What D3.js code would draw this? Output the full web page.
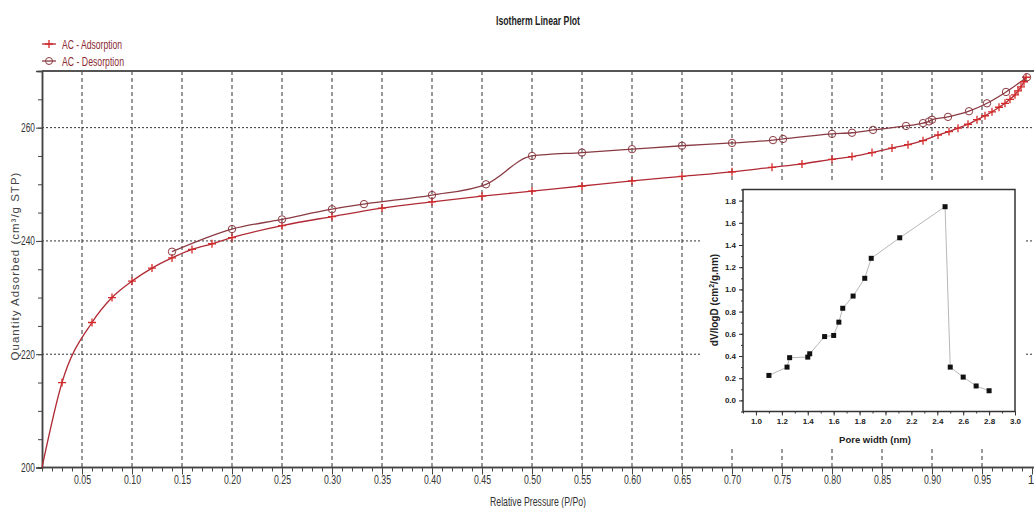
<!DOCTYPE html>
<html>
<head>
<meta charset="utf-8">
<script src="https://cdn.jsdelivr.net/npm/d3@7"></script>
<style>
  body { margin: 0; background: #fff; }
  svg { display: block; }
</style>
</head>
<body>
<svg width="1034" height="508"></svg>
<script>
// isotherm data
let pressureAds = [0.01, 0.03, 0.06, 0.08, 0.10, 0.12, 0.14, 0.16, 0.18, 0.20, 0.25, 0.30, 0.35, 0.40,
  0.45, 0.50, 0.55, 0.60, 0.65, 0.70, 0.74, 0.77, 0.80, 0.82, 0.84, 0.86, 0.876, 0.891, 0.906, 0.917,
  0.926, 0.936, 0.945, 0.953, 0.960, 0.967, 0.973, 0.978, 0.983, 0.986, 0.989, 0.992, 0.994]
let quantityAds = [200, 215.0, 225.6, 230.0, 232.9, 235.2, 237.0, 238.5, 239.5, 240.6, 242.7, 244.3, 245.8, 246.9,
  247.9, 248.8, 249.7, 250.6, 251.4, 252.2, 253.0, 253.6, 254.4, 254.9, 255.6, 256.4, 257.0, 257.7, 258.7, 259.3,
  259.9, 260.6, 261.4, 262.1, 262.8, 263.6, 264.3, 265.0, 265.8, 266.5, 267.2, 268.1, 268.9]

let pressureDes = [0.14, 0.20, 0.25, 0.30, 0.332, 0.40, 0.454, 0.50, 0.55, 0.60, 0.65, 0.70, 0.741, 0.751,
  0.80, 0.82, 0.841, 0.874, 0.891, 0.897, 0.90, 0.916, 0.937, 0.955, 0.974, 0.995]
let quantityDes = [238.1, 242.1, 243.8, 245.6, 246.5, 248.1, 250.0, 255.0, 255.6, 256.2, 256.8, 257.3, 257.8, 258.0,
  258.9, 259.1, 259.6, 260.3, 260.8, 261.1, 261.4, 261.9, 262.9, 264.3, 266.3, 268.9]

// pore size distribution (inset)
let poreWidth = [1.10, 1.24, 1.26, 1.40, 1.415, 1.53, 1.60, 1.64, 1.67, 1.75, 1.84, 1.89, 2.11, 2.46, 2.50, 2.60, 2.70, 2.80]
let dvLogD = [0.225, 0.30, 0.385, 0.39, 0.42, 0.575, 0.585, 0.705, 0.83, 0.94, 1.10, 1.28, 1.465, 1.745, 0.30, 0.21, 0.13, 0.087]

let xTickValues = [0.05, 0.10, 0.15, 0.20, 0.25, 0.30, 0.35, 0.40, 0.45, 0.50, 0.55, 0.60, 0.65, 0.70, 0.75, 0.80, 0.85, 0.90, 0.95, 1.0]
let xTickLabels = ['0.05', '0.10', '0.15', '0.20', '0.25', '0.30', '0.35', '0.40', '0.45', '0.50', '0.55', '0.60',
  '0.65', '0.70', '0.75', '0.80', '0.85', '0.90', '0.95', '1']
let yTickValues = [200, 220, 240, 260]
let insetXTicks = [1.0, 1.2, 1.4, 1.6, 1.8, 2.0, 2.2, 2.4, 2.6, 2.8, 3.0]
let insetYTicks = [0.0, 0.2, 0.4, 0.6, 0.8, 1.0, 1.2, 1.4, 1.6, 1.8]

let sans = "'Liberation Sans', Arial, sans-serif"
let adsColor = '#d42a2a'
let adsLine = '#b02a35'
let desColor = '#8a3a42'

// no narrow font is installed, so squeeze the glyphs to the width seen in the picture
function squeeze(sel, w) {
  sel.attr('textLength', w).attr('lengthAdjust', 'spacingAndGlyphs')
}

let svg = d3.select('svg')

let x = d3.scaleLinear().domain([0.01, 1.0]).range([42, 1032])
let y = d3.scaleLinear().domain([200, 270]).range([467.5, 71])

// title
svg.append('text')
  .attr('x', 538).attr('y', 25)
  .attr('text-anchor', 'middle')
  .attr('font-family', sans).attr('font-weight', 'bold').attr('font-size', 13)
  .attr('fill', '#222')
  .text('Isotherm Linear Plot')
  .call(squeeze, 84)

// grid
svg.append('g').selectAll('line')
  .data(xTickValues.filter(v => v < 0.99))
  .enter().append('line')
  .attr('x1', d => x(d)).attr('x2', d => x(d))
  .attr('y1', y(270)).attr('y2', y(200))
  .attr('stroke', '#333').attr('stroke-width', 1).attr('stroke-dasharray', '4,3')

svg.append('g').selectAll('line')
  .data([220, 240, 260])
  .enter().append('line')
  .attr('x1', x(0.01)).attr('x2', 1034)
  .attr('y1', d => y(d)).attr('y2', d => y(d))
  .attr('stroke', '#333').attr('stroke-width', 1).attr('stroke-dasharray', '2,2')

// top border
svg.append('line')
  .attr('x1', x(0.01)).attr('x2', 1034).attr('y1', y(270)).attr('y2', y(270))
  .attr('stroke', '#555').attr('stroke-width', 2)

// axes
let xMinor = svg.append('g').attr('transform', 'translate(0,' + y(200) + ')')
  .call(d3.axisBottom(x).tickValues(d3.range(1, 101).map(i => i / 100)).tickSize(4).tickFormat(''))
let xMajor = svg.append('g').attr('transform', 'translate(0,' + y(200) + ')')
  .call(d3.axisBottom(x).tickValues(xTickValues).tickSize(7).tickPadding(1)
    .tickFormat((d, i) => xTickLabels[i]))
let yMinor = svg.append('g').attr('transform', 'translate(' + x(0.01) + ',0)')
  .call(d3.axisLeft(y).tickValues(d3.range(200, 271, 5)).tickSize(4).tickFormat(''))
let yMajor = svg.append('g').attr('transform', 'translate(' + x(0.01) + ',0)')
  .call(d3.axisLeft(y).tickValues(yTickValues).tickSize(6).tickPadding(1).tickFormat(d3.format('d')))

;[xMinor, xMajor, yMinor, yMajor].forEach(g => {
  g.select('.domain').attr('stroke', '#444').attr('stroke-width', 1.5)
  g.selectAll('.tick line').attr('stroke', '#444')
  g.selectAll('text').attr('font-family', sans).attr('font-size', 12).attr('fill', '#333')
})
xMajor.select('.domain').attr('d', 'M' + x(0.01) + ',0H1034')
xMinor.select('.domain').attr('d', 'M' + x(0.01) + ',0H1034')
xMajor.selectAll('text').each(function (d, i) {
  let t = d3.select(this)
  if (xTickLabels[i].length > 1) t.call(squeeze, 17)
  else t.attr('text-anchor', 'end').attr('x', 2)
})
yMajor.selectAll('text').call(squeeze, 14)

svg.append('text')
  .attr('x', 538).attr('y', 506)
  .attr('text-anchor', 'middle')
  .attr('font-family', sans).attr('font-size', 12).attr('fill', '#333')
  .text('Relative Pressure (P/Po)')
  .call(squeeze, 96)

svg.append('text')
  .attr('transform', 'translate(19,266) rotate(-90)')
  .attr('text-anchor', 'middle')
  .attr('font-family', sans).attr('font-size', 11.5).attr('fill', '#444')
  .attr('letter-spacing', 1)
  .text('Quantity Adsorbed (cm\u00b3/g STP)')

// curves
let adsData = pressureAds.map((p, i) => [p, quantityAds[i]])
let desData = pressureDes.map((p, i) => [p, quantityDes[i]])

let curve = d3.line()
  .x(d => x(d[0]))
  .y(d => y(d[1]))
  .curve(d3.curveMonotoneX)

svg.append('path').datum(adsData)
  .attr('d', curve).attr('fill', 'none').attr('stroke', adsLine).attr('stroke-width', 1.3)
svg.append('path').datum(desData)
  .attr('d', curve).attr('fill', 'none').attr('stroke', desColor).attr('stroke-width', 1.3)

function plus(g, cx, cy) {
  g.append('path')
    .attr('d', 'M' + (cx - 4) + ',' + cy + 'h8M' + cx + ',' + (cy - 4) + 'v8')
    .attr('stroke', adsColor).attr('stroke-width', 1.3).attr('fill', 'none')
}

let adsMarks = svg.append('g')
adsData.slice(1).forEach(d => plus(adsMarks, x(d[0]), y(d[1])))

svg.append('g').selectAll('circle')
  .data(desData)
  .enter().append('circle')
  .attr('cx', d => x(d[0])).attr('cy', d => y(d[1]))
  .attr('r', 3.7)
  .attr('fill', 'none').attr('stroke', desColor).attr('stroke-width', 1)

// legend
let legend = svg.append('g')
legend.append('line').attr('x1', 42).attr('x2', 56).attr('y1', 44).attr('y2', 44)
  .attr('stroke', adsLine).attr('stroke-width', 1.3)
plus(legend, 49, 44)
legend.append('line').attr('x1', 42).attr('x2', 56).attr('y1', 61).attr('y2', 61)
  .attr('stroke', desColor).attr('stroke-width', 1.3)
legend.append('circle').attr('cx', 49).attr('cy', 61).attr('r', 3.5)
  .attr('fill', 'none').attr('stroke', desColor)
legend.selectAll('text')
  .data(['AC - Adsorption', 'AC - Desorption'])
  .enter().append('text')
  .attr('x', 62).attr('y', (d, i) => 48.5 + i * 17)
  .attr('font-family', sans).attr('font-size', 12.5).attr('fill', '#8b2a32')
  .text(d => d)
  .each(function (d, i) { d3.select(this).call(squeeze, i ? 62 : 60) })

// inset: pore size distribution
svg.append('rect')
  .attr('x', 702).attr('y', 181).attr('width', 324).attr('height', 268)
  .attr('fill', '#fff')

let ix = d3.scaleLinear().domain([0.9, 3.0]).range([743, 1015])
let iy = d3.scaleLinear().domain([-0.1, 1.9]).range([411.5, 189.5])

let ixMinor = svg.append('g').attr('transform', 'translate(0,' + iy(-0.1) + ')')
  .call(d3.axisBottom(ix).tickValues(d3.range(9, 31).map(i => i / 10)).tickSize(2).tickFormat(''))
let ixMajor = svg.append('g').attr('transform', 'translate(0,' + iy(-0.1) + ')')
  .call(d3.axisBottom(ix).tickValues(insetXTicks).tickSize(4).tickFormat(d3.format('.1f')))
let iyMinor = svg.append('g').attr('transform', 'translate(' + ix(0.9) + ',0)')
  .call(d3.axisLeft(iy).tickValues(d3.range(-1, 20).map(i => i / 10)).tickSize(2).tickFormat(''))
let iyMajor = svg.append('g').attr('transform', 'translate(' + ix(0.9) + ',0)')
  .call(d3.axisLeft(iy).tickValues(insetYTicks).tickSize(4).tickFormat(d3.format('.1f')))

;[ixMinor, ixMajor, iyMinor, iyMajor].forEach(g => {
  g.select('.domain').remove()
  g.selectAll('.tick line').attr('stroke', '#333')
  g.selectAll('text').attr('font-family', sans).attr('font-weight', 'bold')
    .attr('font-size', 8).attr('fill', '#222')
})

svg.append('rect')
  .attr('x', ix(0.9)).attr('y', iy(1.9))
  .attr('width', ix(3.0) - ix(0.9)).attr('height', iy(-0.1) - iy(1.9))
  .attr('fill', 'none').attr('stroke', '#333').attr('stroke-width', 1.5)

let insetData = poreWidth.map((w, i) => [w, dvLogD[i]])
svg.append('path').datum(insetData)
  .attr('d', d3.line().x(d => ix(d[0])).y(d => iy(d[1])))
  .attr('fill', 'none').attr('stroke', '#b8b8b8').attr('stroke-width', 1)

svg.append('g').selectAll('rect')
  .data(insetData)
  .enter().append('rect')
  .attr('x', d => ix(d[0]) - 2.5).attr('y', d => iy(d[1]) - 2.5)
  .attr('width', 5).attr('height', 5)
  .attr('fill', '#111')

svg.append('text')
  .attr('x', 875).attr('y', 443)
  .attr('text-anchor', 'middle')
  .attr('font-family', sans).attr('font-weight', 'bold').attr('font-size', 9.5).attr('fill', '#222')
  .text('Pore width (nm)')

let ylab = svg.append('text')
  .attr('transform', 'translate(718,300) rotate(-90)')
  .attr('text-anchor', 'middle')
  .attr('font-family', sans).attr('font-weight', 'bold').attr('font-size', 10).attr('fill', '#222')
ylab.append('tspan').text('dV/logD (cm')
ylab.append('tspan').attr('font-size', 7).attr('dy', -4).text('2')
ylab.append('tspan').attr('dy', 4).text('/g.nm)')
</script>
</body>
</html>
